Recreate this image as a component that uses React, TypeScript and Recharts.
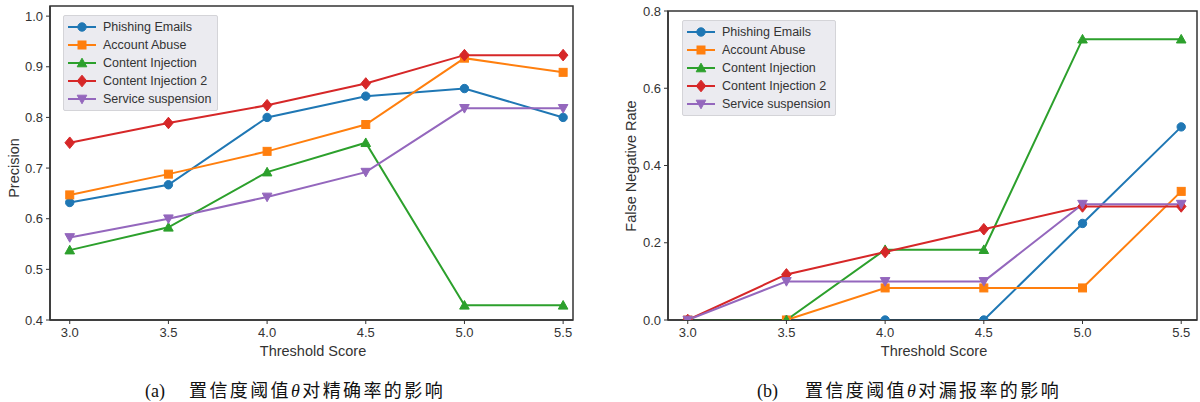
import React from 'react';
import { LineChart, Line, XAxis, YAxis, ReferenceArea } from 'recharts';

const thresholds = [3.0, 3.5, 4.0, 4.5, 5.0, 5.5];
const seriesNames = ['Phishing Emails', 'Account Abuse', 'Content Injection', 'Content Injection 2', 'Service suspension'];
const seriesColors = ['#1f77b4', '#ff7f0e', '#2ca02c', '#d62728', '#9467bd'];
const seriesMarkers = ['circle', 'square', 'triangle', 'diamond', 'triangleDown'];

const precisionPhishing = [0.632, 0.667, 0.8, 0.842, 0.857, 0.8];
const precisionAbuse = [0.647, 0.688, 0.733, 0.786, 0.917, 0.889];
const precisionInjection = [0.538, 0.583, 0.692, 0.75, 0.429, 0.429];
const precisionInjection2 = [0.75, 0.789, 0.824, 0.867, 0.923, 0.923];
const precisionSuspension = [0.563, 0.6, 0.643, 0.692, 0.818, 0.818];

const fnrPhishing = [0, 0, 0, 0, 0.25, 0.5];
const fnrAbuse = [0, 0, 0.083, 0.083, 0.083, 0.333];
const fnrInjection = [0, 0, 0.182, 0.182, 0.727, 0.727];
const fnrInjection2 = [0, 0.118, 0.176, 0.235, 0.294, 0.294];
const fnrSuspension = [0, 0.1, 0.1, 0.1, 0.3, 0.3];

const xTicks = [3.0, 3.5, 4.0, 4.5, 5.0, 5.5];
const precisionTicks = [0.4, 0.5, 0.6, 0.7, 0.8, 0.9, 1.0];
const fnrTicks = [0.0, 0.2, 0.4, 0.6, 0.8];

const buildRows = (series: number[][]) =>
  thresholds.map((x, i) => {
    const row: Record<string, number> = { x };
    series.forEach((s, k) => {
      row['s' + k] = s[i];
    });
    return row;
  });

const precisionRows = buildRows([precisionPhishing, precisionAbuse, precisionInjection, precisionInjection2, precisionSuspension]);
const fnrRows = buildRows([fnrPhishing, fnrAbuse, fnrInjection, fnrInjection2, fnrSuspension]);

const FONT = '"Liberation Sans", Arial, Helvetica, sans-serif';
const TEXT = '#333333';
const AXIS = '#333333';

function Marker({ kind, cx, cy, color }: { kind: string; cx: number; cy: number; color: string }) {
  if (cx == null || cy == null || isNaN(cx) || isNaN(cy)) return null;
  switch (kind) {
    case 'circle':
      return <circle cx={cx} cy={cy} r={4.2} fill={color} stroke={color} />;
    case 'square':
      return <rect x={cx - 4} y={cy - 4} width={8} height={8} fill={color} stroke={color} />;
    case 'triangle':
      return <polygon points={`${cx},${cy - 4.8} ${cx - 4.8},${cy + 3.8} ${cx + 4.8},${cy + 3.8}`} fill={color} stroke={color} />;
    case 'diamond':
      return <polygon points={`${cx},${cy - 5.8} ${cx + 4.8},${cy} ${cx},${cy + 5.8} ${cx - 4.8},${cy}`} fill={color} stroke={color} />;
    case 'triangleDown':
      return <polygon points={`${cx},${cy + 4.8} ${cx - 4.8},${cy - 3.8} ${cx + 4.8},${cy - 3.8}`} fill={color} stroke={color} />;
    default:
      return null;
  }
}

function LegendBox({ left, top, width }: { left: number; top: number; width: number }) {
  return (
    <div
      style={{
        position: 'absolute',
        left,
        top,
        width,
        padding: '2px 0',
        background: '#ebebf0',
        border: '1px solid #d4d4d8',
        borderRadius: 2,
        fontFamily: FONT,
        fontSize: 12.5,
        color: TEXT,
        boxSizing: 'border-box',
      }}
    >
      {seriesNames.map((name, i) => (
        <div key={name} style={{ display: 'flex', alignItems: 'center', height: 18 }}>
          <svg width={39} height={18} style={{ flex: 'none' }}>
            <line x1={4} y1={9} x2={32} y2={9} stroke={seriesColors[i]} strokeWidth={2} />
            <Marker kind={seriesMarkers[i]} cx={18} cy={9} color={seriesColors[i]} />
          </svg>
          <span style={{ whiteSpace: 'nowrap' }}>{name}</span>
        </div>
      ))}
    </div>
  );
}

function Panel({
  rows,
  yDomain,
  yTicks,
  xDomain,
  width,
  yAxisWidth,
  marginTop,
  marginRight,
}: {
  rows: Record<string, number>[];
  yDomain: [number, number];
  yTicks: number[];
  xDomain: [number, number];
  width: number;
  yAxisWidth: number;
  marginTop: number;
  marginRight: number;
}) {
  const tickStyle = { fill: TEXT, fontSize: 13, fontFamily: FONT };
  return (
    <LineChart width={width} height={345} data={rows} margin={{ top: marginTop, right: marginRight, bottom: 0, left: 0 }}>
      <XAxis
        dataKey="x"
        type="number"
        domain={xDomain}
        ticks={xTicks}
        allowDataOverflow
        tickFormatter={(v: number) => v.toFixed(1)}
        tick={tickStyle}
        tickSize={4}
        tickMargin={4}
        height={25}
        axisLine={{ stroke: AXIS, strokeWidth: 1.5 }}
        tickLine={{ stroke: AXIS, strokeWidth: 1 }}
      />
      <YAxis
        type="number"
        domain={yDomain}
        ticks={yTicks}
        allowDataOverflow
        tickFormatter={(v: number) => v.toFixed(1)}
        tick={tickStyle}
        tickSize={4}
        tickMargin={3}
        width={yAxisWidth}
        axisLine={{ stroke: AXIS, strokeWidth: 1.5 }}
        tickLine={{ stroke: AXIS, strokeWidth: 1 }}
      />
      <ReferenceArea
        x1={xDomain[0]}
        x2={xDomain[1]}
        y1={yDomain[0]}
        y2={yDomain[1]}
        fill="none"
        fillOpacity={0}
        stroke={AXIS}
        strokeWidth={1.5}
        ifOverflow="visible"
      />
      {seriesNames.map((name, k) => (
        <Line
          key={name}
          dataKey={'s' + k}
          name={name}
          stroke={seriesColors[k]}
          strokeWidth={2}
          isAnimationActive={false}
          dot={(p: any) => <Marker key={`${k}-${p.index}`} kind={seriesMarkers[k]} cx={p.cx} cy={p.cy} color={seriesColors[k]} />}
          activeDot={false}
        />
      ))}
    </LineChart>
  );
}

const axisTitle: React.CSSProperties = {
  position: 'absolute',
  fontFamily: FONT,
  fontSize: 14.5,
  color: TEXT,
  whiteSpace: 'nowrap',
  lineHeight: 1,
};

const captionStyle: React.CSSProperties = {
  position: 'absolute',
  top: 376,
  fontFamily: '"Liberation Serif", "Times New Roman", "Noto Sans CJK SC", serif',
  fontSize: 18,
  color: '#111',
  whiteSpace: 'nowrap',
};

export default function App() {
  return (
    <div style={{ position: 'fixed', left: 0, top: 0, width: 1200, height: 402, background: '#fff', overflow: 'hidden' }}>
      <div style={{ position: 'absolute', left: 0, top: 0 }}>
        <Panel
          rows={precisionRows}
          yDomain={[0.4, 1.02]}
          yTicks={precisionTicks}
          xDomain={[2.9, 5.55]}
          width={590}
          yAxisWidth={50}
          marginTop={6}
          marginRight={17}
        />
      </div>
      <div style={{ position: 'absolute', left: 600, top: 0 }}>
        <Panel
          rows={fnrRows}
          yDomain={[0, 0.8]}
          yTicks={fnrTicks}
          xDomain={[2.9, 5.58]}
          width={600}
          yAxisWidth={68}
          marginTop={11}
          marginRight={3}
        />
      </div>

      <LegendBox left={63} top={15} width={155} />
      <LegendBox left={682} top={20} width={154} />

      <div style={{ ...axisTitle, left: 313, top: 344, transform: 'translateX(-50%)' }}>Threshold Score</div>
      <div style={{ ...axisTitle, left: 934, top: 344, transform: 'translateX(-50%)' }}>Threshold Score</div>
      <div style={{ ...axisTitle, left: 14, top: 168, transform: 'translate(-50%, -50%) rotate(-90deg)' }}>Precision</div>
      <div style={{ ...axisTitle, left: 631, top: 166, transform: 'translate(-50%, -50%) rotate(-90deg)' }}>False Negative Rate</div>

      <div style={{ ...captionStyle, left: 145 }}>
        (a)
        <span style={{ marginLeft: 24, letterSpacing: 2.4 }}>
          置信度阈值<i>θ</i>对精确率的影响
        </span>
      </div>
      <div style={{ ...captionStyle, left: 757 }}>
        (b)
        <span style={{ marginLeft: 27, letterSpacing: 2.4 }}>
          置信度阈值<i>θ</i>对漏报率的影响
        </span>
      </div>
    </div>
  );
}
